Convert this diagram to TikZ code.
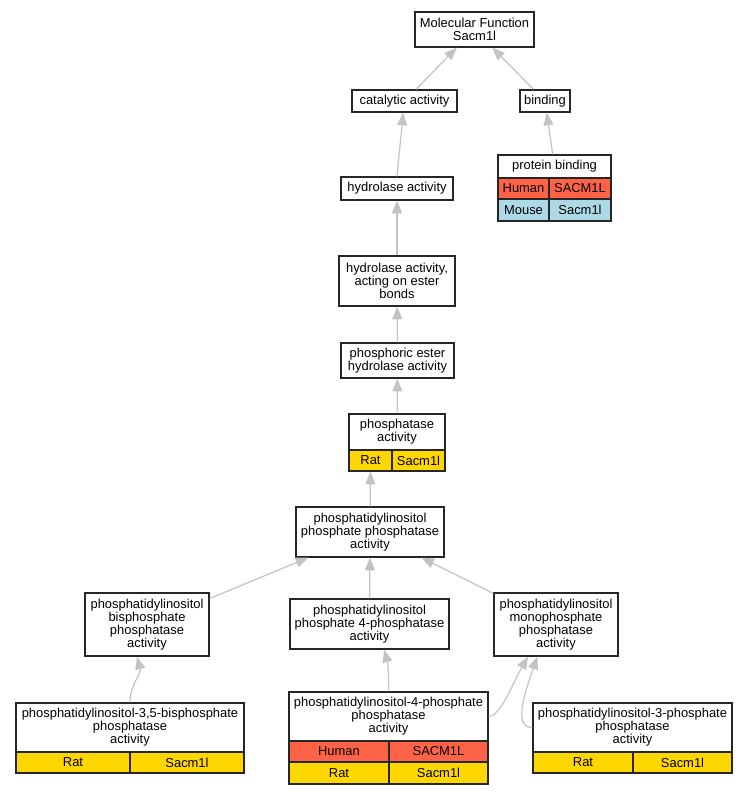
\documentclass[tikz,border=0pt]{standalone}
\usepackage{fontspec}
\setmainfont{Liberation Sans}
\usetikzlibrary{arrows.meta,calc}

\definecolor{human}{RGB}{255,99,71}
\definecolor{rat}{RGB}{255,215,0}
\definecolor{mouse}{RGB}{173,216,230}
\definecolor{edgegray}{RGB}{195,195,195}

\begin{document}
\begin{tikzpicture}[x=0.75pt,y=-0.75pt,
    term/.style={draw=black!85, line width=0.9pt, fill=white, align=center,
        inner sep=1pt, font=\fontsize{9.7}{9.8}\selectfont},
    cell/.style={term, minimum height=15.75pt},
    edge/.style={draw=edgegray, line width=0.9pt, -{Triangle[length=9.5pt,width=7.5pt]}}]

    \useasboundingbox (0,0) rectangle (748,795);

    \node[term, minimum width=89.25pt, minimum height=26.25pt] (mf) at (474.5,29.5) {Molecular Function\\Sacm1l};
    \node[term, minimum width=78.75pt, minimum height=16.5pt] (cat) at (404.5,101) {catalytic activity};
    \node[term, minimum width=37.5pt, minimum height=16.5pt] (bind) at (545,101) {binding};

    \node[term, minimum width=84.75pt, minimum height=17.25pt] (prot) at (554.5,166.5) {protein binding};
    \node[cell, fill=human, minimum width=38.25pt] (protA) at (523.5,188.5) {Human};
    \node[cell, fill=human, minimum width=46.5pt] (protB) at (580,188.5) {SACM1L};
    \node[cell, fill=mouse, minimum width=38.25pt, minimum height=16.5pt] (protC) at (523.5,210) {Mouse};
    \node[cell, fill=mouse, minimum width=46.5pt, minimum height=16.5pt] (protD) at (580,210) {Sacm1l};

    \node[term, minimum width=84pt, minimum height=17.25pt] (hyd) at (397,188.5) {hydrolase activity};
    \node[term, minimum width=87pt, minimum height=37.5pt] (ester) at (397,281) {hydrolase activity,\\acting on ester\\bonds};
    \node[term, minimum width=84.75pt, minimum height=26.25pt] (phos) at (397.5,360.5) {phosphoric ester\\hydrolase activity};

    \node[term, minimum width=72pt, minimum height=27pt] (ph) at (397,432) {phosphatase\\activity};
    \node[cell, fill=rat, minimum width=32.25pt] (phA) at (370.5,460.5) {Rat};
    \node[cell, fill=rat, minimum width=39.75pt] (phB) at (418.5,460.5) {Sacm1l};

    \node[term, minimum width=111pt, minimum height=37.5pt] (pipp) at (370,532) {phosphatidylinositol\\phosphate phosphatase\\activity};
    \node[term, minimum width=93pt, minimum height=47.25pt] (bis) at (147,624.5) {phosphatidylinositol\\bisphosphate\\phosphatase\\activity};
    \node[term, minimum width=119.25pt, minimum height=37.5pt] (pi4) at (369.5,624) {phosphatidylinositol\\phosphate 4-phosphatase\\activity};
    \node[term, minimum width=93pt, minimum height=47.25pt] (mono) at (556,624.5) {phosphatidylinositol\\monophosphate\\phosphatase\\activity};

    \node[term, minimum width=171pt, minimum height=36.75pt] (tb) at (130,727.5) {phosphatidylinositol-3,5-bisphosphate\\phosphatase\\activity};
    \node[cell, fill=rat, minimum width=85.5pt] (tbA) at (73,762.5) {Rat};
    \node[cell, fill=rat, minimum width=85.5pt] (tbB) at (187,762.5) {Sacm1l};

    \node[term, minimum width=149.25pt, minimum height=36.75pt] (tf) at (388.5,716.5) {phosphatidylinositol-4-phosphate\\phosphatase\\activity};
    \node[cell, fill=human, minimum width=75pt] (tfA) at (339,751.5) {Human};
    \node[cell, fill=human, minimum width=74.25pt] (tfB) at (438.5,751.5) {SACM1L};
    \node[cell, fill=rat, minimum width=75pt, minimum height=16.5pt] (tfC) at (339,773) {Rat};
    \node[cell, fill=rat, minimum width=74.25pt, minimum height=16.5pt] (tfD) at (438.5,773) {Sacm1l};

    \node[term, minimum width=149.25pt, minimum height=36.75pt] (tt) at (632.5,727.5) {phosphatidylinositol-3-phosphate\\phosphatase\\activity};
    \node[cell, fill=rat, minimum width=75pt] (ttA) at (583,762.5) {Rat};
    \node[cell, fill=rat, minimum width=74.25pt] (ttB) at (682.5,762.5) {Sacm1l};

    \draw[edge] (cat) -- (mf);
    \draw[edge] (bind) -- (mf);
    \draw[edge] (hyd.north) to[out=85,in=-95] ($(cat.south)+(-1pt,0)$);
    \draw[edge] (prot) -- (bind);
    \draw[edge] (ester) -- (hyd);
    \draw[edge] (phos) -- (ester);
    \draw[edge] (ph) -- (phos);
    \draw[edge] (pipp) -- (phA);
    \draw[edge] (bis) -- (pipp);
    \draw[edge] (pi4) -- (pipp);
    \draw[edge] (mono) -- (pipp);
    \draw[edge] (tb.north) to[out=90,in=-75] ($(bis.south)+(-7.5pt,0)$);
    \draw[edge] (tf.north) to[out=90,in=-75] ($(pi4.south)+(11pt,0)$);
    \draw[edge] (tf.east) .. controls +(9pt,0) and +(-11pt,-19pt) .. ($(mono.south)+(-21pt,0)$);
    \draw[edge] (tt.west) .. controls +(-15pt,0) and +(-9pt,-26pt) .. ($(mono.south)+(-14pt,0)$);

\end{tikzpicture}
\end{document}
